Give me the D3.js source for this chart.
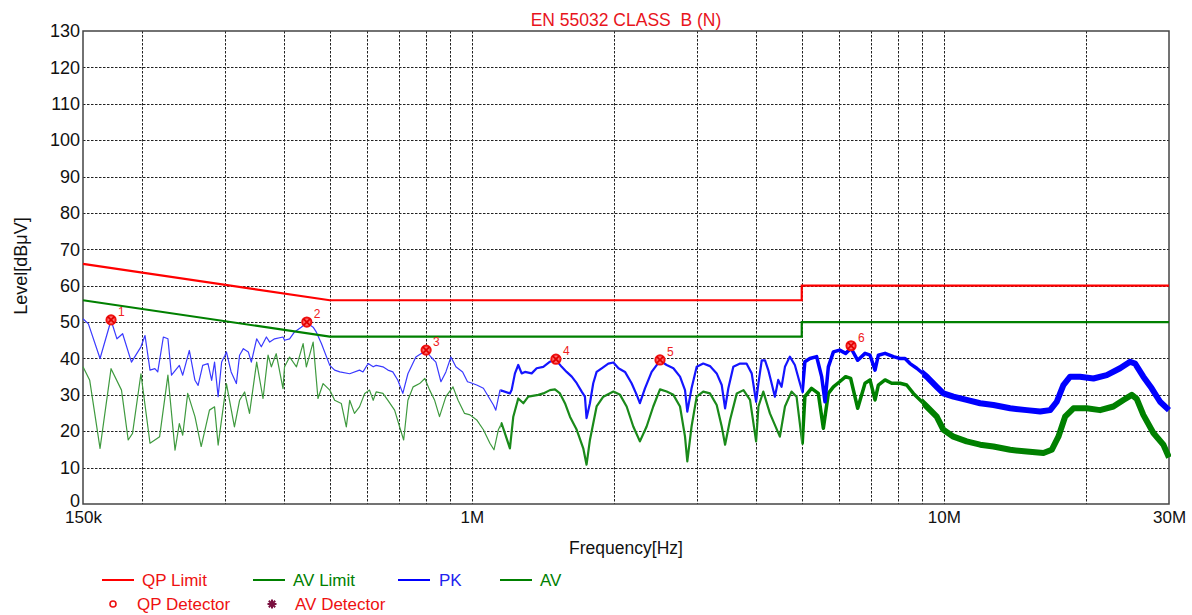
<!DOCTYPE html>
<html><head><meta charset="utf-8">
<script src="https://cdn.jsdelivr.net/npm/d3@7"></script>
<style>
body{margin:0;background:#fff;}
svg{display:block;}
text{font-family:"Liberation Sans",Arial,sans-serif;}
</style>
</head><body>
<svg id="chart" width="1192" height="615"></svg>
<script>
// ---------- data ----------
const titleText = "EN 55032 CLASS  B (N)";
const xAxisTitle = "Frequency[Hz]";
const yAxisTitle = "Level[dBμV]";
const xTickValues = [0.15, 1, 10, 30];           // MHz
const xTickLabels = ["150k", "1M", "10M", "30M"];
const xGridValues = [0.2,0.3,0.4,0.5,0.6,0.7,0.8,0.9,1,2,3,4,5,6,7,8,9,10,20];
const yTickValues = [0,10,20,30,40,50,60,70,80,90,100,110,120,130];

const qpLimitFreq  = [0.15, 0.5, 5, 5, 30];
const qpLimitLevel = [66, 56, 56, 60, 60];
const avLimitFreq  = [0.15, 0.5, 5, 5, 30];
const avLimitLevel = [56, 46, 46, 50, 50];

const pkFreq = [0.150,0.154,0.163,0.172,0.177,0.182,0.190,0.199,0.203,0.208,0.213,0.216,0.222,0.227,0.231,0.240,0.244,0.252,0.259,0.263,0.269,0.276,0.281,0.285,0.290,0.295,0.300,0.302,0.309,0.317,0.322,0.328,0.336,0.341,0.350,0.358,0.367,0.373,0.382,0.398,0.401,0.411,0.421,0.435,0.447,0.461,0.468,0.480,0.500,0.512,0.525,0.551,0.578,0.588,0.603,0.618,0.627,0.648,0.664,0.680,0.697,0.714,0.732,0.761,0.780,0.800,0.819,0.839,0.860,0.881,0.903,0.925,0.956,0.979,
0.991,1.024,1.058,1.111,1.124,1.147,1.204,1.214,1.234,1.254,1.275,1.296,1.339,1.372,1.417,1.464,1.507,1.550,1.588,1.628,1.668,1.709,1.736,1.750,1.779,1.808,1.838,1.884,1.946,1.995,2.045,2.111,2.180,2.235,2.270,2.327,2.404,2.504,2.587,2.673,2.761,2.829,2.861,2.921,2.995,3.092,3.195,3.302,3.384,3.440,3.495,3.581,3.701,3.819,3.917,4.002,4.048,4.114,4.180,4.247,4.316,4.386,4.458,4.531,4.607,4.718,4.835,4.955,5.012,5.077,5.202,5.377,5.510,5.601,5.693,5.835,6.015,6.194,6.360,6.570,
6.809,6.977,7.149,7.266,7.507,7.819,8.076,8.276,8.480,8.761,9.197,9.66,9.98,10.48,11.18,11.94,12.74,13.82,14.99,16.00,16.80,17.35,17.92,18.52,19.44,20.75,22.14,23.63,24.81,25.43,26.47,27.57,28.72,30.0];
const pkLevel = [50.9,49.5,40.0,50.5,45.4,46.8,39.0,43.2,46.3,36.8,37.2,36.3,45.9,45.4,35.4,38.1,35.4,42.2,34.0,32.6,38.1,38.6,34.0,39.0,29.5,39.0,40.9,41.8,36.3,33.1,40.9,42.7,41.8,39.0,45.4,43.2,45.9,44.5,45.4,45.9,45.0,45.4,47.3,48.6,49.8,48.6,47.3,44.1,38.1,36.8,36.3,35.8,36.8,36.3,38.6,37.7,38.1,37.7,36.8,36.3,34.0,30.4,35.8,40.4,41.3,42.1,40.4,39.0,33.6,36.3,40.4,37.7,36.3,33.6,
33.4,32.7,31.8,27.2,25.8,31.3,30.4,31.3,35.9,38.2,35.9,36.3,35.9,37.3,37.7,39.1,39.6,37.7,36.3,35.0,33.2,30.9,29.5,23.6,27.7,33.2,36.3,37.3,38.6,38.9,37.3,36.3,33.2,30.0,27.7,31.8,36.3,39.4,38.2,37.3,35.0,31.3,25.4,31.8,37.7,38.6,37.9,35.9,32.7,26.3,31.8,37.7,38.6,38.6,35.9,28.1,33.2,39.5,39.5,36.8,33.2,29.5,34.1,32.2,37.7,40.5,38.2,33.2,30.9,39.1,40.0,40.5,35.0,28.1,37.7,41.8,42.3,41.4,42.8,39.5,
41.4,40.9,36.8,40.9,41.4,40.5,40.0,40.0,38.6,37.3,35.0,32.2,30.4,29.5,28.6,27.7,27.2,26.3,25.8,25.4,25.8,28.1,32.7,35.0,35.0,34.5,35.4,37.3,39.1,38.6,35.0,31.8,28.1,25.8];

const avFreq = [0.150,0.155,0.163,0.172,0.181,0.187,0.191,0.199,0.208,0.218,0.227,0.235,0.240,0.244,0.250,0.259,0.267,0.278,0.285,0.290,0.302,0.314,0.322,0.330,0.338,0.350,0.361,0.370,0.376,0.385,0.398,0.401,0.411,0.425,0.439,0.446,0.461,0.472,0.484,0.500,0.512,0.529,0.542,0.551,0.564,0.578,0.593,0.607,0.618,0.627,0.648,0.664,0.686,0.703,0.717,0.732,0.751,0.775,0.795,0.814,0.834,0.854,0.881,0.912,0.935,0.965,
0.991,1.024,1.058,1.092,1.114,1.138,1.156,1.204,1.224,1.254,1.286,1.317,1.383,1.417,1.464,1.500,1.537,1.575,1.614,1.668,1.722,1.750,1.779,1.838,1.899,1.995,2.061,2.128,2.198,2.270,2.346,2.423,2.504,2.587,2.673,2.761,2.829,2.861,2.921,2.995,3.092,3.195,3.302,3.384,3.440,3.524,3.642,3.763,3.885,4.002,4.048,4.145,4.281,4.494,4.607,4.756,4.875,5.012,5.077,5.244,5.421,5.556,5.693,5.835,6.015,6.194,6.348,6.570,
6.809,6.977,7.149,7.266,7.507,7.755,8.076,8.343,8.620,9.197,9.66,9.98,10.48,11.18,11.94,12.74,13.82,14.99,16.26,16.93,17.49,18.07,18.82,20.08,21.43,22.87,24.02,25.02,25.63,26.47,27.80,29.19,30.0];
const avLevel = [37.7,34.0,15.3,37.2,31.3,17.6,19.4,35.8,16.7,18.5,35.4,14.8,22.1,18.9,30.4,24.0,15.8,25.8,26.7,16.2,33.1,21.2,28.5,30.8,24.9,39.0,29.0,40.9,37.7,41.3,31.7,37.7,40.4,37.7,44.1,37.7,44.5,29.0,33.1,31.3,28.5,27.6,21.2,28.5,24.9,26.7,30.4,31.3,28.5,30.8,30.4,28.5,25.8,21.2,17.6,28.5,32.2,33.1,34.5,31.3,28.5,24.0,29.5,32.2,28.5,24.9,
24.5,23.1,20.4,16.7,14.9,20.4,22.2,15.3,24.0,29.0,27.7,29.5,30.0,30.4,31.3,31.5,30.4,27.7,24.0,20.4,15.3,10.8,17.6,26.8,29.5,30.9,30.0,26.8,21.3,17.2,21.3,26.8,31.5,30.9,30.0,26.8,18.5,11.7,21.3,29.5,30.9,30.4,27.2,21.3,16.3,23.1,30.4,31.3,28.6,17.2,26.8,30.9,24.9,18.5,26.8,30.9,29.5,16.7,29.5,31.8,30.4,20.8,30.4,32.2,33.6,35.0,34.5,26.3,
33.2,34.1,28.6,32.7,34.1,33.2,33.2,32.7,30.4,26.8,24.0,20.4,18.5,17.2,16.3,15.8,14.9,14.4,14.0,14.9,18.5,24.0,26.3,26.3,25.8,26.8,28.6,30.0,28.9,24.5,19.5,16.3,12.8];

const markerFreq  = [0.172, 0.447, 0.800, 1.507, 2.504, 6.360];
const markerLevel = [50.6, 50.0, 42.3, 39.8, 39.6, 43.5];
const markerLabel = ["1", "2", "3", "4", "5", "6"];

const legendRow1 = ["QP Limit", "AV Limit", "PK", "AV"];
const legendRow2 = ["QP Detector", "AV Detector"];

// ---------- drawing ----------
const svg = d3.select("#chart");
const L = 83, R = 1169, T = 31, B = 504;
const x = d3.scaleLog().domain([0.15, 30]).range([L, R]);
const y = d3.scaleLinear().domain([0, 130]).range([B, T]);

const RED = "#ff0000", GREEN = "#008000", BLUE = "#0000ff";

// grid
const grid = svg.append("g").attr("stroke", "#222").attr("stroke-width", 1).attr("stroke-dasharray", "2.5,1.5");
grid.selectAll("line.v").data(xGridValues).join("line")
  .attr("x1", d => Math.round(x(d)) + 0.5).attr("x2", d => Math.round(x(d)) + 0.5)
  .attr("y1", T).attr("y2", B);
grid.selectAll("line.h").data(yTickValues.filter(v => v > 0 && v < 130)).join("line")
  .attr("x1", L).attr("x2", R)
  .attr("y1", d => Math.round(y(d)) + 0.5).attr("y2", d => Math.round(y(d)) + 0.5);

// frame
svg.append("rect").attr("x", L).attr("y", T).attr("width", R - L).attr("height", B - T)
  .attr("fill", "none").attr("stroke", "#444").attr("stroke-width", 1.5);

// axes
const yAxis = svg.append("g").attr("transform", `translate(${L},0)`)
  .call(d3.axisLeft(y).tickValues(yTickValues).tickSize(0).tickPadding(3));
yAxis.select(".domain").remove();
yAxis.selectAll("text").attr("font-size", 18).attr("fill", "#111").style("font-family", '"Liberation Sans",Arial,sans-serif')
  .attr("dy", d => d === 0 ? "0.12em" : "0.32em");

const xAxis = svg.append("g").attr("transform", `translate(0,${B})`)
  .call(d3.axisBottom(x).tickValues(xTickValues).tickFormat((d, i) => xTickLabels[i]).tickSize(0).tickPadding(7));
xAxis.select(".domain").remove();
xAxis.selectAll("text").attr("font-size", 17).attr("fill", "#111").style("font-family", '"Liberation Sans",Arial,sans-serif');

// titles
svg.append("text").attr("x", 626).attr("y", 26).attr("text-anchor", "middle")
  .attr("font-size", 17.5).attr("fill", "#e8141c").style("white-space", "pre").text(titleText);
svg.append("text").attr("x", 626).attr("y", 554).attr("text-anchor", "middle")
  .attr("font-size", 17.5).attr("fill", "#111").text(xAxisTitle);
svg.append("text").attr("transform", "translate(27,266) rotate(-90)").attr("text-anchor", "middle")
  .attr("font-size", 18).attr("fill", "#111").text(yAxisTitle);

// clip regions for trace thickness
const defs = svg.append("defs");
const bands = [
  {id: "c1", f0: 0.15, f1: 1.15, pkW: 1.2, avW: 1.2, pkC: "#3a3aff", avC: "#3f9a3f"},
  {id: "c2", f0: 1.15, f1: 5.0, pkW: 2.2, avW: 2.2, pkC: "#1515ff", avC: "#1a8a1a"},
  {id: "c3", f0: 5.0, f1: 9.0, pkW: 3.5, avW: 3.5, pkC: BLUE, avC: GREEN},
  {id: "c4", f0: 9.0, f1: 30, pkW: 6, avW: 6, pkC: BLUE, avC: GREEN}
];
bands.forEach(b => {
  defs.append("clipPath").attr("id", b.id).append("rect")
    .attr("x", x(b.f0) - (b.f0 === 0.15 ? 2 : 0)).attr("y", T)
    .attr("width", x(b.f1) - x(b.f0) + (b.f1 === 30 ? 2 : 0) + (b.f0 === 0.15 ? 2 : 0)).attr("height", B - T);
});

const line = d3.line().x(d => x(d[0])).y(d => y(d[1]));
const pkData = pkFreq.map((f, i) => [f, pkLevel[i]]);
const avData = avFreq.map((f, i) => [f, avLevel[i]]);

const traces = svg.append("g");
bands.forEach(b => {
  traces.append("path").attr("clip-path", `url(#${b.id})`).attr("d", line(avData))
    .attr("fill", "none").attr("stroke", b.avC).attr("stroke-width", b.avW).attr("stroke-linejoin", "round");
});
bands.forEach(b => {
  traces.append("path").attr("clip-path", `url(#${b.id})`).attr("d", line(pkData))
    .attr("fill", "none").attr("stroke", b.pkC).attr("stroke-width", b.pkW).attr("stroke-linejoin", "round");
});

// limits
const qpData = qpLimitFreq.map((f, i) => [f, qpLimitLevel[i]]);
const avlData = avLimitFreq.map((f, i) => [f, avLimitLevel[i]]);
svg.append("path").attr("d", line(avlData)).attr("fill", "none").attr("stroke", GREEN).attr("stroke-width", 2.2);
svg.append("path").attr("d", line(qpData)).attr("fill", "none").attr("stroke", RED).attr("stroke-width", 2.2);

// markers
const mk = svg.append("g").selectAll("g").data(markerFreq).join("g")
  .attr("transform", (d, i) => `translate(${x(d)},${y(markerLevel[i])})`);
mk.append("circle").attr("r", 4.6).attr("fill", "#ff7070").attr("stroke", "#f01010").attr("stroke-width", 2);
mk.append("path").attr("d", "M-3.3,-3.3L3.3,3.3M-3.3,3.3L3.3,-3.3").attr("stroke", "#e00000").attr("stroke-width", 1.8);
mk.append("text").attr("x", 7).attr("y", -4).attr("font-size", 12).attr("fill", "#f02020")
  .text((d, i) => markerLabel[i]);

// legend
const lg = svg.append("g").attr("font-size", 17);
const row1Pos = [{lx: 102, tx: 142, c: RED, tc: "#ee1111"}, {lx: 253, tx: 293, c: GREEN, tc: GREEN},
                 {lx: 398, tx: 439, c: BLUE, tc: "#2222ee"}, {lx: 500, tx: 540, c: GREEN, tc: GREEN}];
legendRow1.forEach((t, i) => {
  const p = row1Pos[i];
  lg.append("line").attr("x1", p.lx).attr("x2", p.lx + 32).attr("y1", 580).attr("y2", 580)
    .attr("stroke", p.c).attr("stroke-width", 2);
  lg.append("text").attr("x", p.tx).attr("y", 586).attr("fill", p.tc).text(t);
});
lg.append("circle").attr("cx", 113).attr("cy", 604).attr("r", 3).attr("fill", "none")
  .attr("stroke", "#ee1111").attr("stroke-width", 1.6);
lg.append("text").attr("x", 137).attr("y", 610).attr("fill", "#ee1111").text(legendRow2[0]);
lg.append("path").attr("transform", "translate(272,604)")
  .attr("d", "M-4.5,0L4.5,0M0,-4.5L0,4.5M-3.2,-3.2L3.2,3.2M-3.2,3.2L3.2,-3.2")
  .attr("stroke", "#7a1040").attr("stroke-width", 2);
lg.append("text").attr("x", 295).attr("y", 610).attr("fill", "#ee1111").text(legendRow2[1]);
</script>
</body></html>
